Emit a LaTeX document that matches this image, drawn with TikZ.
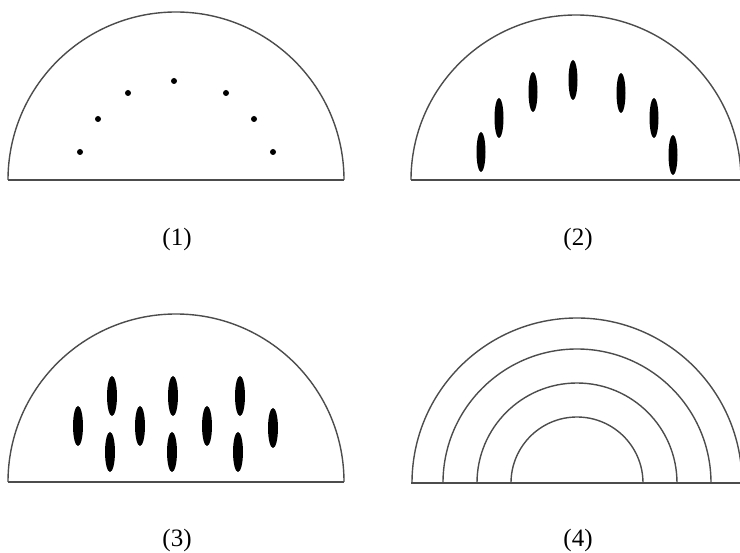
\documentclass[tikz,border=0pt]{standalone}
\usepackage{fontspec}
\setmainfont{Liberation Serif}
\begin{document}
\begin{tikzpicture}[x=1pt,y=-1pt,
  arcline/.style={draw=black!70, line width=1.4pt},
  groundline/.style={draw=black!70, line width=2.4pt},
  dotmark/.style={fill=black, circle, inner sep=0pt, minimum size=6pt},
  seedmark/.style={fill=black},
  caption/.style={font=\fontsize{25}{25}\selectfont, inner sep=0pt}]
\useasboundingbox (0,0) rectangle (740,553);
% panel 1
\draw[arcline] (8,180) arc[start angle=180, end angle=360, radius=168];
\draw[groundline] (8,180) -- (344,180);
\foreach \p [count=\i] in {(80,152),(98,119),(128,93),(174,81),(226,93),(254,119),(273,152)}
  \node[dotmark] (d\i) at \p {};
\node[caption] (c1) at (177,239) {(1)};
% panel 2
\draw[arcline] (411,180) arc[start angle=180, end angle=360, radius=165];
\draw[groundline] (411,180) -- (741,180);
\foreach \p in {(481,152),(499,118),(533,92),(573,80),(621,93),(654,118),(673,155)}
  \fill[seedmark] \p ellipse[x radius=4.5, y radius=20];
\node[caption] (c2) at (578,239) {(2)};
% panel 3
\draw[arcline] (8,482) arc[start angle=180, end angle=360, radius=168];
\draw[groundline] (8,482) -- (344,482);
\foreach \p in {(112,396),(173,396),(240,396),(78,426),(140,426),(207,426),(273,428),(110,452),(172,452),(238,452)}
  \fill[seedmark] \p ellipse[x radius=5, y radius=20];
\node[caption] (c3) at (177,540) {(3)};
% panel 4
\foreach \r in {165,134,100,66}
  \draw[arcline] (577-\r,483) arc[start angle=180, end angle=360, radius=\r];
\draw[groundline] (411,483) -- (741,483);
\node[caption] (c4) at (578,540) {(4)};
\end{tikzpicture}
\end{document}
